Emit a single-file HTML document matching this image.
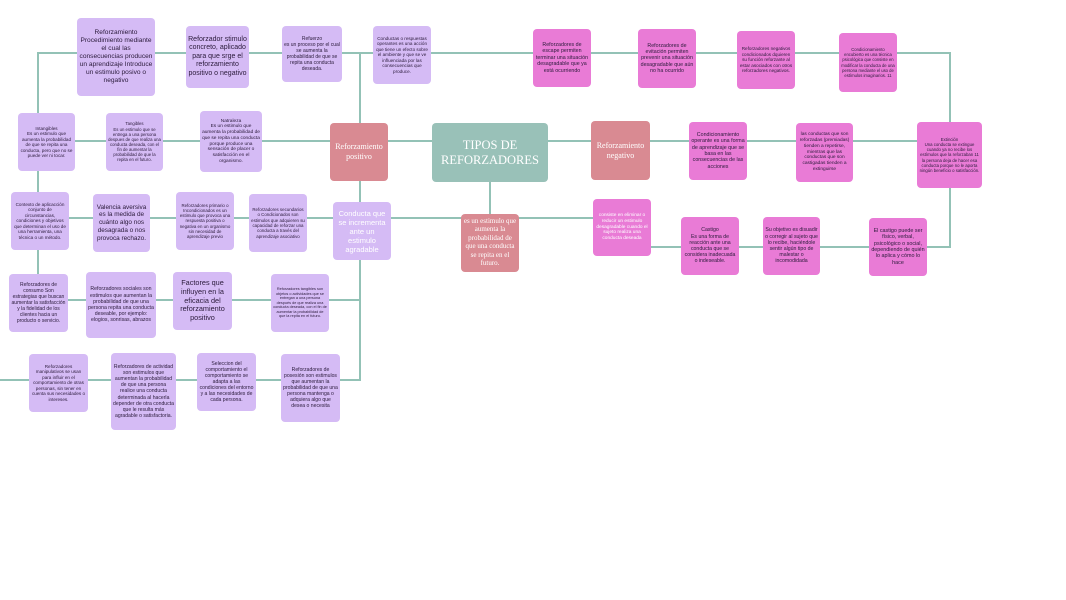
<!DOCTYPE html>
<html><head><meta charset="utf-8"><style>
body{margin:0;width:1066px;height:600px;background:#fff;position:relative;overflow:hidden;font-family:"Liberation Sans",sans-serif}
.b{position:absolute;box-sizing:border-box;border-radius:4px;display:flex;align-items:center;justify-content:center;text-align:center;color:#2a1a3a;line-height:1.2;padding:2px;overflow:hidden}
.l{background:#d5bbf5}.p{background:#e97bd6}.r{background:#d98a92;color:#fff;font-family:"Liberation Serif",serif}
.t{background:#99c1b8;color:#fff;font-family:"Liberation Serif",serif}
svg{position:absolute;left:0;top:0}
</style></head><body>
<svg width="1066" height="600"><g stroke="#93c2b6" stroke-width="2" fill="none">
<polyline points="38,330 38,53 950,53 950,247 927,247"/>
<line x1="360" y1="53" x2="360" y2="123"/>
<polyline points="360,181 360,380 340,380"/>
<line x1="75" y1="141" x2="917" y2="141"/>
<line x1="69" y1="218" x2="593" y2="218"/>
<line x1="490" y1="182" x2="490" y2="214"/>
<line x1="68" y1="300" x2="360" y2="300"/>
<line x1="0" y1="380" x2="281" y2="380"/>
<line x1="651" y1="247" x2="869" y2="247"/>
</g></svg>

<div class="b l" style="left:77px;top:18px;width:78px;height:78px;font-size:6.6px">Reforzamiento Procedimiento mediante el cual las consecuencias producen un aprendizaje Introduce un estimulo posivo o negativo</div>
<div class="b l" style="left:186px;top:26px;width:63px;height:62px;font-size:7px">Reforzador stimulo concreto, aplicado para que srge el reforzamiento positivo o negativo</div>
<div class="b l" style="left:282px;top:26px;width:60px;height:56px;font-size:5px">Refuerzo<br>es un proceso por el cual se aumenta la probabilidad de que se repita una conducta deseada.</div>
<div class="b l" style="left:373px;top:26px;width:58px;height:58px;font-size:4.6px">Conductas o respuestas operantes es una acción que tiene un efecto sobre el ambiente y que se ve influenciada por las consecuencias que produce.</div>
<div class="b l" style="left:18px;top:113px;width:57px;height:58px;font-size:4.6px">Intangibles<br>Es un estimulo que aumenta la probabilidad de que se repita una conducta, pero que no se puede ver ni tocar.</div>
<div class="b l" style="left:106px;top:113px;width:57px;height:58px;font-size:4.3px">Tangibles<br>Es un estimulo que se entrega a una persona despues de que realiza una conducta deseada, con el fin de aumentar la probabilidad de que la repita en el futuro.</div>
<div class="b l" style="left:200px;top:111px;width:62px;height:61px;font-size:4.8px">Natraleza<br>Es un estimulo que aumenta la probabilidad de que se repita una conducta porque produce una sensación de placer o satisfacción en el organismo.</div>
<div class="b r" style="left:330px;top:123px;width:58px;height:58px;font-size:8px">Reforzamiento positivo</div>
<div class="b t" style="left:432px;top:123px;width:116px;height:59px;font-size:12.5px">TIPOS DE REFORZADORES</div>
<div class="b l" style="left:11px;top:192px;width:58px;height:58px;font-size:4.6px">Contexto de aplicacción conjunto de circunstancias, condiciones y objetivos que determinan el uso de una herramienta, una técnica o un método.</div>
<div class="b l" style="left:93px;top:194px;width:57px;height:58px;font-size:6.4px">Valencia aversiva es la medida de cuánto algo nos desagrada o nos provoca rechazo.</div>
<div class="b l" style="left:176px;top:192px;width:58px;height:58px;font-size:4.4px">Reforzadores primario o Incondicionados es un estimulo que provoca una respuesta positiva o negativa en un organismo sin necesidad de aprendizaje previo</div>
<div class="b l" style="left:249px;top:194px;width:58px;height:58px;font-size:4.4px">Reforzadores secundarios o Condicionados son estimulos que adquieren su capacidad de reforzar una conducta a través del aprendizaje asociativo</div>
<div class="b l" style="left:333px;top:202px;width:58px;height:58px;font-size:7.5px;color:#fff">Conducta que se incrementa ante un estimulo agradable</div>
<div class="b r" style="left:461px;top:214px;width:58px;height:58px;font-size:7px;align-items:flex-start;padding-top:3px">es un estimulo que aumenta la probabilidad de que una conducta se repita en el futuro.</div>
<div class="b l" style="left:9px;top:274px;width:59px;height:58px;font-size:5px">Reforzadores de consumo Son estrategias que buscan aumentar la satisfacción y la fidelidad de los clientes hacia un producto o servicio.</div>
<div class="b l" style="left:86px;top:272px;width:70px;height:66px;font-size:5.2px">Reforzadores sociales son estimulos que aumentan la probabilidad de que una persona repita una conducta deseable, por ejemplo: elogios, sonrisas, abrazos</div>
<div class="b l" style="left:173px;top:272px;width:59px;height:58px;font-size:7.3px">Factores que influyen en la eficacia del reforzamiento positivo</div>
<div class="b l" style="left:271px;top:274px;width:58px;height:58px;font-size:3.8px">Reforzadores tangibles son objetos o actividades que se entregan a una persona después de que realiza una conducta deseada, con el fin de aumentar la probabilidad de que la repita en el futuro.</div>
<div class="b l" style="left:29px;top:354px;width:59px;height:58px;font-size:4.6px">Reforzadores manipulativos se usan para influir en el comportamiento de otras personas, sin tener en cuenta sus necesidades o intereses.</div>
<div class="b l" style="left:111px;top:353px;width:65px;height:77px;font-size:5.1px">Reforzadores de actividad son estimulos que aumentan la probabilidad de que una persona realice una conducta determinada al hacerla depender de otra conducta que le resulta más agradable o satisfactoria.</div>
<div class="b l" style="left:197px;top:353px;width:59px;height:58px;font-size:5.1px">Seleccion del comportamiento el comportamiento se adapta a las condiciones del entorno y a las necesidades de cada persona.</div>
<div class="b l" style="left:281px;top:354px;width:59px;height:68px;font-size:5.1px">Reforzadores de posesión son estimulos que aumentan la probabilidad de que una persona mantenga o adquiera algo que desea o necesita</div>

<div class="b p" style="left:533px;top:29px;width:58px;height:58px;font-size:5.3px">Reforzadores de escape permiten terminar una situación desagradable que ya está ocurriendo</div>
<div class="b p" style="left:638px;top:29px;width:58px;height:59px;font-size:5.3px">Reforzadores de evitación permiten prevenir una situación desagradable que aún no ha ocurrido</div>
<div class="b p" style="left:737px;top:31px;width:58px;height:58px;font-size:4.6px">Reforzadores negativos condicionados dquieren su función reforzante al estar asociados con otros reforzadores negativos.</div>
<div class="b p" style="left:839px;top:33px;width:58px;height:59px;font-size:4.2px">Condicionamiento encubierto es una técnica psicológica que consiste en modificar la conducta de una persona mediante el uso de estímulos imaginarios. 11</div>
<div class="b r" style="left:591px;top:121px;width:59px;height:59px;font-size:8px">Reforzamiento negativo</div>
<div class="b p" style="left:689px;top:122px;width:58px;height:58px;font-size:5.3px">Condicionamiento operante es una forma de aprendizaje que se basa en las consecuencias de las acciones</div>
<div class="b p" style="left:796px;top:123px;width:57px;height:59px;font-size:4.8px">las conductas que son reforzadas (premiadas) tienden a repetirse, mientras que las conductas que son castigadas tienden a extinguirse</div>
<div class="b p" style="left:917px;top:122px;width:65px;height:66px;font-size:4.3px">Extinción<br>Una conducta se extingue cuando ya no recibe los estímulos que la reforzaban 11 la persona deja de hacer esa conducta porque no le aporta ningún beneficio o satisfacción.</div>
<div class="b p" style="left:593px;top:199px;width:58px;height:57px;font-size:4.8px;color:#fff">consiste en eliminar o reducir un estimulo desagradable cuando el sujeto realiza una conducta deseada</div>
<div class="b p" style="left:681px;top:217px;width:58px;height:58px;font-size:5.2px">Castigo<br>Es una forma de reacción ante una conducta que se considera inadecuada o indeseable.</div>
<div class="b p" style="left:763px;top:217px;width:57px;height:58px;font-size:5.2px">Su objetivo es disuadir o corregir al sujeto que lo recibe, haciéndole sentir algún tipo de malestar o incomodidada</div>
<div class="b p" style="left:869px;top:218px;width:58px;height:58px;font-size:5.4px">El castigo puede ser físico, verbal, psicológico o social, dependiendo de quién lo aplica y cómo lo hace</div>
</body></html>
